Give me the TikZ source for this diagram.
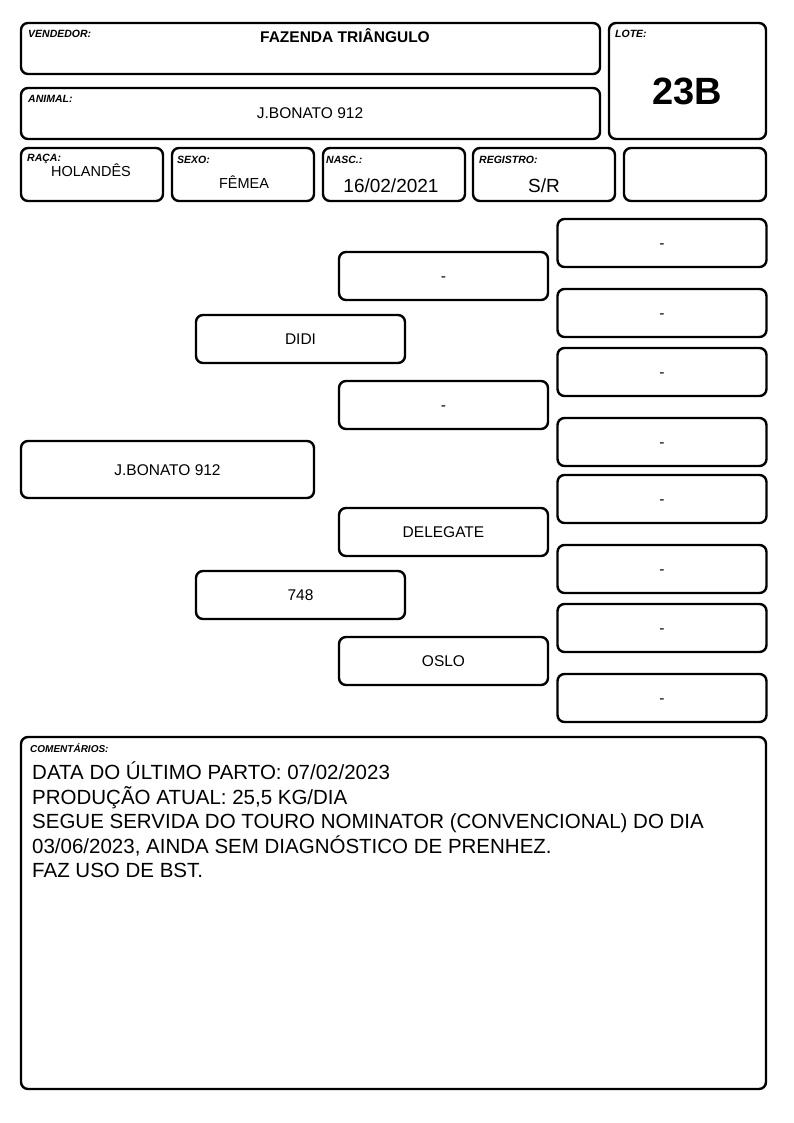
\documentclass[tikz,border=0pt]{standalone}
\usepackage{fontspec}
\setmainfont{Liberation Sans}
\usepackage{tikz}
\usetikzlibrary{positioning}

\begin{document}
\begin{tikzpicture}[
    x=1pt, y=-1pt,
    card/.style={rectangle, draw, line width=2.4pt, rounded corners=7pt, inner sep=0pt},
    field/.style={card, minimum width=579pt, minimum height=51pt},
    cell/.style={card, minimum width=142pt, minimum height=53pt},
    anc/.style={card, minimum width=209pt, minimum height=48pt, text height=11.2pt, text depth=0pt, font=\fontsize{15.5}{18}\selectfont},
    lbl/.style={anchor=base west, inner sep=0pt, font=\fontsize{10.5}{12}\selectfont\bfseries\itshape},
    val/.style={anchor=base, inner sep=0pt, font=\fontsize{15.5}{18}\selectfont}
]
    \useasboundingbox (0,0) rectangle (794,1123);

    % Header
    \node[field] (vend) at (310.5,48.5) {};
    \node[field] (animal) at (310.5,113.5) {};
    \node[card, minimum width=157pt, minimum height=116pt] (lote) at (687.5,81) {};
    \node[lbl] (vendlbl) at (28,38) {VENDEDOR:};
    \node[val, font=\fontsize{15.5}{18}\selectfont\bfseries] (vendval) at (345,42.5) {FAZENDA TRIÂNGULO};
    \node[lbl] (animallbl) at (28,103) {ANIMAL:};
    \node[val] (animalval) at (310,118.5) {J.BONATO 912};
    \node[lbl] (lotelbl) at (615,38) {LOTE:};
    \node[val, font=\fontsize{38}{40}\selectfont\bfseries] (loteval) at (687,104.5) {23B};

    % Data row
    \node[cell] (raca) at (92,174.5) {};
    \node[cell] (sexo) at (243,174.5) {};
    \node[cell] (nasc) at (394,174.5) {};
    \node[cell] (reg) at (544,174.5) {};
    \node[cell] (extra) at (695,174.5) {};
    \node[lbl] (racalbl) at (27,162) {RAÇA:};
    \node[lbl] (sexolbl) at (177,164) {SEXO:};
    \node[lbl] (nasclbl) at (326,164) {NASC.:};
    \node[lbl] (reglbl) at (479,164) {REGISTRO:};
    \node[val, font=\fontsize{14.5}{17}\selectfont] (racaval) at (91,177) {HOLANDÊS};
    \node[val, font=\fontsize{14.5}{17}\selectfont] (sexoval) at (244,189) {FÊMEA};
    \node[val, font=\fontsize{19}{22}\selectfont] (nascval) at (391,193) {16/02/2021};
    \node[val, font=\fontsize{19}{22}\selectfont] (regval) at (544,193) {S/R};

    % Pedigree
    \node[anc, minimum width=293pt, minimum height=57pt] (prog) at (167.5,469.5) {J.BONATO 912};
    \node[anc] (pai) at (300.5,339) {DIDI};
    \node[anc] (mae) at (300.5,595) {748};
    \node[anc] (avo1) at (443.5,276) {-};
    \node[anc] (avo2) at (443.5,405) {-};
    \node[anc] (avo3) at (443.5,532) {DELEGATE};
    \node[anc] (avo4) at (443.5,661) {OSLO};
    \foreach \yy [count=\i] in {243,313,372,442,499,569,628,698}
        \node[anc] (bis\i) at (662,\yy) {-};

    % Comments
    \node[card, minimum width=745pt, minimum height=352pt] (coment) at (393.5,913) {};
    \node[lbl, font=\fontsize{10}{12}\selectfont\bfseries\itshape] (comentlbl) at (30,752) {COMENTÁRIOS:};
    \node[anchor=north west, inner sep=0pt, align=left, font=\fontsize{20.5}{24.4}\selectfont] (comenttxt) at (32,762)
        {DATA DO ÚLTIMO PARTO: 07/02/2023\\
         PRODUÇÃO ATUAL: 25,5 KG/DIA\\
         SEGUE SERVIDA DO TOURO NOMINATOR (CONVENCIONAL) DO DIA\\
         03/06/2023, AINDA SEM DIAGNÓSTICO DE PRENHEZ.\\
         FAZ USO DE BST.};
\end{tikzpicture}
\end{document}
